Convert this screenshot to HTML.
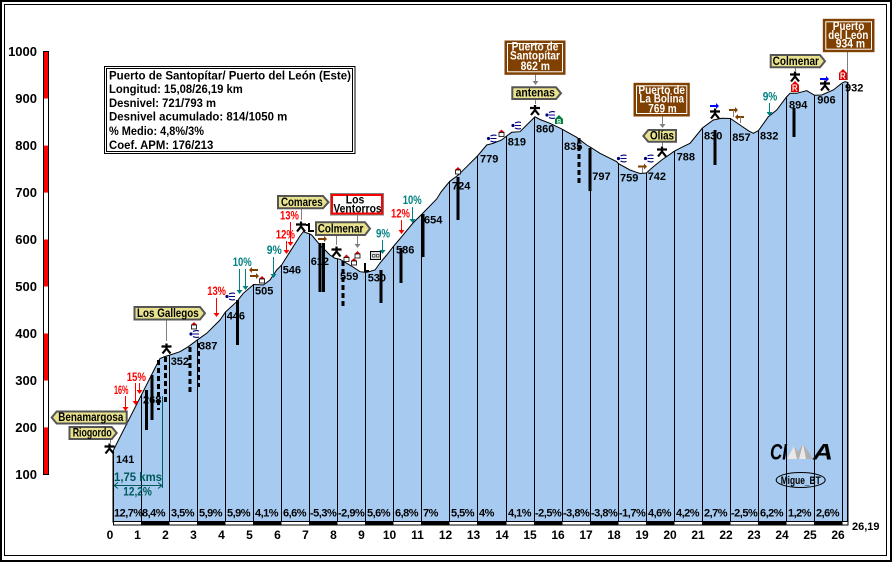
<!DOCTYPE html>
<html><head><meta charset="utf-8"><style>html,body{margin:0;padding:0;background:#fff}svg{display:block}</style></head><body>
<svg width="892" height="562" viewBox="0 0 892 562" xmlns="http://www.w3.org/2000/svg" font-family="'Liberation Sans', Arial, sans-serif" font-weight="bold">
<defs>
<g id="st"><path d="M0,-5 L0,0 M-5,-2 L5,-2 M0,0 L-4,5 M0,0 L4,5" stroke="#000" stroke-width="2.2" fill="none"/></g>
<g id="wd"><circle cx="-3" cy="0" r="1.6" fill="#000080"/><path d="M-1,-2.5 Q2,-4 5,-3 M-1,0 L5,0 M-1,2.5 Q2,4 5,3" stroke="#000080" stroke-width="1.1" fill="none"/></g>
<g id="hs"><path d="M-3,-1 L0,-4 L3,-1 Z" fill="#e00000"/><rect x="-2.5" y="-1" width="5" height="4" fill="#fff" stroke="#000" stroke-width="0.8"/></g>
<g id="ar"><path d="M-4,-1 L2,-1 L2,-3 L5,0 L2,3 L2,1 L-4,1 Z" fill="#804000"/></g>
<g id="al"><path d="M4,-1 L-2,-1 L-2,-3 L-5,0 L-2,3 L-2,1 L4,1 Z" fill="#804000"/></g>
<g id="rh"><path d="M-4,-2 L0,-6 L4,-2 L4,5 L-4,5 Z" fill="#e00000"/><path d="M-2,4 L-2,-2 L1,-2 Q2.5,-1 1,1 L-2,1 M0,1 L2,4" stroke="#fff" stroke-width="1" fill="none"/></g>
</defs>
<rect x="1" y="1" width="890" height="560" fill="#fff" stroke="#000" stroke-width="2"/>
<rect x="4.5" y="4.5" width="882" height="551" fill="none" stroke="#000"/>

<!-- y axis -->
<rect x="43.5" y="51.5" width="5" height="423" fill="#fff" stroke="#000"/>
<g fill="#f00"><rect x="44" y="52" width="4" height="46.5"/><rect x="44" y="145.6" width="4" height="47"/><rect x="44" y="239.5" width="4" height="47"/><rect x="44" y="333.5" width="4" height="47"/><rect x="44" y="427.4" width="4" height="46.6"/></g>
<g font-size="13" text-anchor="end" fill="#000">
<text x="37" y="56">1000</text><text x="37" y="103">900</text><text x="37" y="150">800</text><text x="37" y="197">700</text><text x="37" y="244">600</text><text x="37" y="291">500</text><text x="37" y="338">400</text><text x="37" y="385">300</text><text x="37" y="432">200</text><text x="37" y="479">100</text>
</g>

<!-- profile -->
<path d="M113,522 L113,451 L118,441 L141.4,395 L155,368 L160,358.5 L165,356.5 L170,355 L180,351.7 L188.3,346.7 L197.5,339.8 L206.7,333.3 L215,325 L220,320 L225.5,312 L236.7,301.7 L243.3,293.3 L253.6,284.5 L263.3,285 L270,280 L276.7,270 L281.6,265 L290,251.7 L300,236 L303.3,231.7 L309.7,234 L311.7,235 L320,245 L330,255 L335,258.3 L340,259.3 L346.7,263.3 L353,267 L360,271.7 L365.8,272.4 L368,272 L375,270 L380,263 L386.7,255 L393.8,246 L401.7,236.7 L413,223 L423,213 L436.7,199 L441,192 L446.7,185 L449.9,181.3 L458.3,175 L466.7,166.7 L477.9,155.5 L486.7,145 L493.3,143.3 L501.7,140 L506,136.5 L511.7,132.3 L520,131.7 L526.7,125 L535,116.8 L540,119.5 L550,123.3 L562.1,129.2 L576.7,137.3 L586.7,145 L590.2,147 L600,153.3 L616.7,161.7 L618.2,163.5 L630,170 L640,173.5 L646.3,173 L653.3,166.7 L661.7,160 L674.3,151.2 L683,146.7 L690,143.3 L702.4,128 L713.3,120 L721.7,118.3 L730.4,118.5 L740,125 L748.3,130.7 L753.3,133.3 L758.5,130.6 L768.3,116.7 L776.7,110 L786.5,97 L790,93.3 L796.7,93.3 L806.7,90.7 L814.6,95.3 L821.7,95 L833.3,90 L841.7,83.3 L845,81.7 L848,82.5 L848,522 Z" fill="#a6caf0" stroke="#000" stroke-width="1"/>

<!-- km lines -->
<g stroke="#000" stroke-width="1">
<path d="M113.5,451V522 M141.5,395V522 M169.5,355V522 M197.5,340V522 M225.5,312V522 M253.5,285V522 M281.5,265V522 M309.5,234V522 M337.5,259V522 M365.5,272V522 M393.5,246V522 M421.5,214V522 M449.5,181V522 M477.5,155.5V522 M506.5,136.5V522 M534.5,117V522 M562.5,129V522 M590.5,147V522 M618.5,163V522 M646.5,173V522 M674.5,151V522 M702.5,128V522 M730.5,118.5V522 M758.5,130.6V522 M786.5,97V522 M814.5,95V522 M842.5,84V522 M847.5,82.5V522"/>
</g>

<!-- black bars -->
<g stroke="#000" stroke-width="3" fill="none">
<path d="M146.5,390V430 M152,375V420 M237.5,300V345 M320,243V292 M323.5,243V292 M381,270V303 M401,248V283 M423,214V257 M458,177V220 M590,148V191 M715,130V165 M794,108V137"/>
<path d="M158.5,360V410 M165.5,357V405 M198.5,343V387 M190,347V393 M343,261V307 M579,138V185" stroke-dasharray="5,3"/>
</g>

<!-- bottom strip -->
<rect x="113.5" y="521.5" width="734.5" height="3.5" fill="#fff" stroke="#000"/>
<g fill="#000">
<rect x="141" y="521" width="28.5" height="4.5"/><rect x="197" y="521" width="28.5" height="4.5"/><rect x="253" y="521" width="28.5" height="4.5"/><rect x="309" y="521" width="28.5" height="4.5"/><rect x="365" y="521" width="28.5" height="4.5"/><rect x="421" y="521" width="28.5" height="4.5"/><rect x="477" y="521" width="29.5" height="4.5"/><rect x="534" y="521" width="28.5" height="4.5"/><rect x="590" y="521" width="28.5" height="4.5"/><rect x="646" y="521" width="28.5" height="4.5"/><rect x="702" y="521" width="28.5" height="4.5"/><rect x="758" y="521" width="28.5" height="4.5"/><rect x="814" y="521" width="28.5" height="4.5"/>
</g>

<!-- percentages -->
<g font-size="11" letter-spacing="-0.5" fill="#000">
<text x="114" y="516.5">12,7%</text><text x="142" y="516.5">8,4%</text><text x="171" y="516.5">3,5%</text><text x="199" y="516.5">5,9%</text><text x="227" y="516.5">5,9%</text><text x="255" y="516.5">4,1%</text><text x="283" y="516.5">6,6%</text><text x="310" y="516.5">-5,3%</text><text x="338" y="516.5">-2,9%</text><text x="367" y="516.5">5,6%</text><text x="395" y="516.5">6,8%</text><text x="423" y="516.5">7%</text><text x="451" y="516.5">5,5%</text><text x="479" y="516.5">4%</text><text x="508" y="516.5">4,1%</text><text x="535" y="516.5">-2,5%</text><text x="563" y="516.5">-3,8%</text><text x="591" y="516.5">-3,8%</text><text x="619" y="516.5">-1,7%</text><text x="648" y="516.5">4,6%</text><text x="676" y="516.5">4,2%</text><text x="704" y="516.5">2,7%</text><text x="731" y="516.5">-2,5%</text><text x="760" y="516.5">6,2%</text><text x="788" y="516.5">1,2%</text><text x="816" y="516.5">2,6%</text>
</g>

<!-- km labels -->
<g font-size="12" text-anchor="middle" fill="#000">
<text x="110" y="539">0</text><text x="137.5" y="539">1</text><text x="165.5" y="539">2</text><text x="193.5" y="539">3</text><text x="221.5" y="539">4</text><text x="249.5" y="539">5</text><text x="277.5" y="539">6</text><text x="305.5" y="539">7</text><text x="333.5" y="539">8</text><text x="361.5" y="539">9</text><text x="389.5" y="539">10</text><text x="417.5" y="539">11</text><text x="445.5" y="539">12</text><text x="473.5" y="539">13</text><text x="502" y="539">14</text><text x="530" y="539">15</text><text x="558" y="539">16</text><text x="586" y="539">17</text><text x="614" y="539">18</text><text x="642" y="539">19</text><text x="670" y="539">20</text><text x="698" y="539">21</text><text x="726" y="539">22</text><text x="754" y="539">23</text><text x="782" y="539">24</text><text x="810" y="539">25</text><text x="838" y="539">26</text>
</g>
<text x="852" y="530" font-size="11" fill="#000">26,19</text>

<!-- elevation labels -->
<g font-size="11" fill="#000">
<text x="116" y="463">141</text><text x="143" y="403.3">268</text><text x="170.7" y="365">352</text><text x="199" y="349.3">387</text><text x="226.7" y="319.3">446</text><text x="255" y="294.3">505</text><text x="282.7" y="273.3">546</text><text x="310.7" y="265">612</text><text x="340" y="280">559</text><text x="367.7" y="281.7">530</text><text x="396" y="253.3">586</text><text x="424" y="223.3">654</text><text x="452" y="189.5">724</text><text x="480" y="162.5">779</text><text x="507.7" y="145.7">819</text><text x="536" y="132.3">860</text><text x="564" y="150">835</text><text x="592.3" y="180">797</text><text x="620" y="181.7">759</text><text x="647.7" y="180">742</text><text x="676.7" y="160.7">788</text><text x="704" y="139.3">830</text><text x="732.3" y="141">857</text><text x="760" y="139.3">832</text><text x="789" y="108.3">894</text><text x="817.3" y="103.3">906</text><text x="845" y="91.7">932</text>
</g>

<!-- 1,75 kms annotation -->
<g stroke="#005a5a" fill="none" stroke-width="1">
<path d="M162.5,396V488 M114,485.5H162 M114,485.5l4,-3 M114,485.5l4,3 M162,485.5l-4,-3 M162,485.5l-4,3"/>
</g>
<text x="114" y="481" font-size="12" fill="#005a5a" textLength="48" lengthAdjust="spacingAndGlyphs">1,75 kms</text>
<text x="123.3" y="495.5" font-size="12" fill="#005a5a" textLength="28.5" lengthAdjust="spacingAndGlyphs">12,2%</text>

<!-- grade arrows -->
<g stroke-width="1" fill="none">
<path stroke="#f00" d="M125.5,396V408 M135.5,383V402 M139.5,383V391 M216.5,298V314 M286.5,241V251 M290.5,222V243 M401.5,220V231"/>
<path stroke="#008080" d="M239.5,269V291 M245.5,269V287 M273.5,257V275 M382.5,240V251 M412.5,207V220 M769.5,103V113"/>
</g>
<g fill="#f00"><path d="M122.5,407h6l-3,4z M132.5,401h6l-3,4z M136.5,390h6l-3,4z M213.5,313h6l-3,4z M283.5,250h6l-3,4z M287.5,242h6l-3,4z M398.5,230h6l-3,4z"/></g>
<g fill="#008080"><path d="M236.5,290h6l-3,4z M242.5,286h6l-3,4z M270.5,274h6l-3,4z M379.5,250h6l-3,4z M409.5,219h6l-3,4z M766.5,112h6l-3,4z"/></g>
<g font-size="12" fill="#f00">
<text x="114" y="394" textLength="14.5" lengthAdjust="spacingAndGlyphs">16%</text>
<text x="126.7" y="381" textLength="19.3" lengthAdjust="spacingAndGlyphs">15%</text>
<text x="207.3" y="295" textLength="18.7" lengthAdjust="spacingAndGlyphs">13%</text>
<text x="275.7" y="238.3" textLength="19.3" lengthAdjust="spacingAndGlyphs">12%</text>
<text x="280" y="219.3" textLength="19" lengthAdjust="spacingAndGlyphs">13%</text>
<text x="391" y="217.3" textLength="19" lengthAdjust="spacingAndGlyphs">12%</text>
</g>
<g font-size="12" fill="#008080">
<text x="232.7" y="266" textLength="19" lengthAdjust="spacingAndGlyphs">10%</text>
<text x="266.7" y="254" textLength="15" lengthAdjust="spacingAndGlyphs">9%</text>
<text x="376" y="237.3" textLength="14" lengthAdjust="spacingAndGlyphs">9%</text>
<text x="402.7" y="204" textLength="19" lengthAdjust="spacingAndGlyphs">10%</text>
<text x="762.7" y="100.7" textLength="14.6" lengthAdjust="spacingAndGlyphs">9%</text>
</g>

<!-- leader lines -->
<g stroke="#808080" stroke-width="1" fill="none">
<path d="M110.5,439V443 M166.5,319V341 M301.5,208V220 M336.5,235V245 M357.5,215V246 M535.5,74V82 M535.5,99V104 M662.5,116V125 M662.5,142V146 M847.5,52V80 M795.5,67V71"/>
</g>
<g fill="#808080"><path d="M354.5,244h6l-3,4z M532.5,81h6l-3,4z M659.5,124h6l-3,4z"/></g>

<!-- stars -->
<use href="#st" x="109.5" y="448.5"/><use href="#st" x="166.5" y="348.5"/><use href="#st" x="301" y="226.5"/><use href="#st" x="336.5" y="251.5"/><use href="#st" x="535" y="110"/><use href="#st" x="662" y="151.5"/><use href="#st" x="715" y="113.5"/><use href="#st" x="795" y="76.5"/><use href="#st" x="825" y="85.5"/>

<!-- churches -->
<path d="M309,223v8h5 M306,225h4 M365,263v8h4" stroke="#000" stroke-width="2" fill="none"/>

<!-- icons -->
<use href="#wd" x="230" y="296.5"/><use href="#wd" x="194" y="334"/><use href="#wd" x="491.5" y="138.5"/><use href="#wd" x="516" y="125.5"/><use href="#wd" x="550" y="115"/><use href="#wd" x="621.5" y="158.5"/><use href="#wd" x="648.5" y="158.5"/>
<use href="#hs" x="194" y="326"/><use href="#hs" x="262" y="280"/><use href="#hs" x="458" y="171"/><use href="#hs" x="501.5" y="133.5"/><use href="#hs" x="346.5" y="258.5"/><use href="#hs" x="354" y="262"/><use href="#hs" x="357.5" y="255"/>
<use href="#ar" x="322" y="239"/><use href="#al" x="254" y="270"/><use href="#ar" x="254" y="276"/><use href="#ar" x="733" y="110"/><use href="#al" x="740" y="117"/><use href="#ar" x="642" y="166.5"/>
<path d="M642.5,167V173 M733.5,110V117 M740.5,117V123" stroke="#808080" stroke-width="1"/>
<use href="#rh" x="795" y="87"/><use href="#rh" x="843" y="75"/>
<path d="M710,105h6v-2l3,3l-3,3v-2h-6z M820,78h6v-2l3,3l-3,3v-2h-6z" fill="#0000ff"/>
<path d="M555,119l4,-4l4,4v5h-8z" fill="#008040"/><text x="559" y="123.5" font-size="6" fill="#fff" text-anchor="middle">B</text>
<rect x="370.5" y="251.5" width="10" height="8" fill="#ddd" stroke="#000"/><rect x="372.5" y="254.5" width="2.5" height="2.5" fill="#fff" stroke="#000" stroke-width="0.6"/><rect x="376.5" y="254.5" width="2.5" height="2.5" fill="#fff" stroke="#000" stroke-width="0.6"/>

<!-- yellow signs -->
<g fill="#e8e28e" stroke="#555" stroke-width="2">
<path d="M51.7,417.5 L56.7,411.5 L126.7,411.5 L126.7,423.5 L56.7,423.5 Z"/>
<path d="M69.5,427 L111.7,427 L116.7,433 L111.7,439 L69.5,439 Z"/>
<path d="M134.5,307 L200,307 L205,313.2 L200,319.5 L134.5,319.5 Z"/>
<path d="M278,196 L323,196 L328.5,202.2 L323,208.3 L278,208.3 Z"/>
<path d="M316,222.3 L365,222.3 L370,228.6 L365,235 L316,235 Z"/>
<path d="M512.3,87.3 L556,87.3 L561,93.2 L556,99 L512.3,99 Z"/>
<path d="M643.3,136 L648.3,130 L676,130 L676,141.7 L648.3,141.7 Z"/>
<path d="M770.7,55 L820,55 L825,61.2 L820,67.3 L770.7,67.3 Z"/>
</g>
<g font-size="11.5" fill="#000" text-anchor="middle">
<text x="90.8" y="421" textLength="65" lengthAdjust="spacingAndGlyphs">Benamargosa</text>
<text x="92.2" y="436.5" textLength="39" lengthAdjust="spacingAndGlyphs">Riogordo</text>
<text x="167.9" y="317" textLength="61.7" lengthAdjust="spacingAndGlyphs">Los Gallegos</text>
<text x="301.8" y="206" textLength="41.7" lengthAdjust="spacingAndGlyphs">Comares</text>
<text x="340.5" y="232.5" textLength="45.6" lengthAdjust="spacingAndGlyphs">Colmenar</text>
<text x="535.3" y="96.5" textLength="39.3" lengthAdjust="spacingAndGlyphs">antenas</text>
<text x="662" y="139.5" textLength="24" lengthAdjust="spacingAndGlyphs">Olías</text>
<text x="795.8" y="64.8" textLength="46.3" lengthAdjust="spacingAndGlyphs">Colmenar</text>
</g>

<!-- Los Ventorros -->
<rect x="330.5" y="193.5" width="53" height="21.5" fill="#fff" stroke="#808080" stroke-width="1"/>
<rect x="332" y="195" width="50" height="18.5" fill="#fff" stroke="#f00" stroke-width="2"/>
<g font-size="11.5" fill="#000" text-anchor="middle">
<text x="355" y="203.3" textLength="18.6" lengthAdjust="spacingAndGlyphs">Los</text>
<text x="357.5" y="212.3" textLength="48.3" lengthAdjust="spacingAndGlyphs">Ventorros</text>
</g>

<!-- brown boxes -->
<g fill="#804000" stroke="#804000" stroke-width="1">
<rect x="505" y="41" width="60" height="33.3"/><rect x="634" y="83.3" width="55.3" height="32.7"/><rect x="823.3" y="19.3" width="50.7" height="32.4"/>
</g>
<g fill="none" stroke="#fff" stroke-width="1">
<rect x="507.5" y="43.5" width="55" height="28.3"/><rect x="636.5" y="85.8" width="50.3" height="27.7"/><rect x="825.8" y="21.8" width="45.7" height="27.4"/>
</g>
<g font-size="11.5" fill="#fff" text-anchor="middle">
<text x="535" y="50.7" textLength="46.7" lengthAdjust="spacingAndGlyphs">Puerto de</text>
<text x="535" y="59.7" textLength="50" lengthAdjust="spacingAndGlyphs">Santopítar</text>
<text x="535.3" y="70" textLength="29.3" lengthAdjust="spacingAndGlyphs">862 m</text>
<text x="661.7" y="94" textLength="46.7" lengthAdjust="spacingAndGlyphs">Puerto de</text>
<text x="661.7" y="102.7" textLength="44.7" lengthAdjust="spacingAndGlyphs">La Bolina</text>
<text x="662.5" y="112.7" textLength="28.4" lengthAdjust="spacingAndGlyphs">769 m</text>
<text x="848.5" y="30" textLength="31.6" lengthAdjust="spacingAndGlyphs">Puerto</text>
<text x="848.3" y="39" textLength="40" lengthAdjust="spacingAndGlyphs">del León</text>
<text x="850.4" y="47.7" textLength="29.3" lengthAdjust="spacingAndGlyphs">934 m</text>
</g>

<!-- info box -->
<rect x="104.5" y="66.5" width="250.5" height="87" fill="#fff" stroke="#000"/>
<rect x="106.5" y="68.5" width="246" height="83" fill="none" stroke="#000"/>
<g font-size="11.5" fill="#000">
<text x="109" y="79.5" textLength="242" lengthAdjust="spacingAndGlyphs">Puerto de Santopítar/ Puerto del León (Este)</text>
<text x="109" y="93" textLength="133.7" lengthAdjust="spacingAndGlyphs">Longitud: 15,08/26,19 km</text>
<text x="109" y="107" textLength="107" lengthAdjust="spacingAndGlyphs">Desnivel: 721/793 m</text>
<text x="109" y="120.5" textLength="178.3" lengthAdjust="spacingAndGlyphs">Desnivel acumulado: 814/1050 m</text>
<text x="109" y="135" textLength="95" lengthAdjust="spacingAndGlyphs">% Medio: 4,8%/3%</text>
<text x="109" y="149" textLength="104.3" lengthAdjust="spacingAndGlyphs">Coef. APM: 176/213</text>
</g>

<!-- CIMA logo -->
<text x="770" y="459.5" font-size="22" font-style="italic" fill="#000" textLength="17" lengthAdjust="spacingAndGlyphs">CI</text>
<path d="M787,459 L794,446 L798,452 L803,444 L808,451 L813,459 Z" fill="#b0b0b0"/>
<path d="M794,446 L797,459 L787,459 Z M803,444 L806,459 L799,459 Z" fill="#e8e8e8"/>
<text x="813" y="459.5" font-size="22" font-style="italic" fill="#000" textLength="20" lengthAdjust="spacingAndGlyphs">A</text>
<ellipse cx="800.7" cy="480" rx="24.5" ry="7.5" fill="none" stroke="#000"/>
<text x="800.7" y="484" font-size="11" text-anchor="middle" fill="#000" textLength="40" lengthAdjust="spacingAndGlyphs">Migue_BT</text>
</svg>
</body></html>
